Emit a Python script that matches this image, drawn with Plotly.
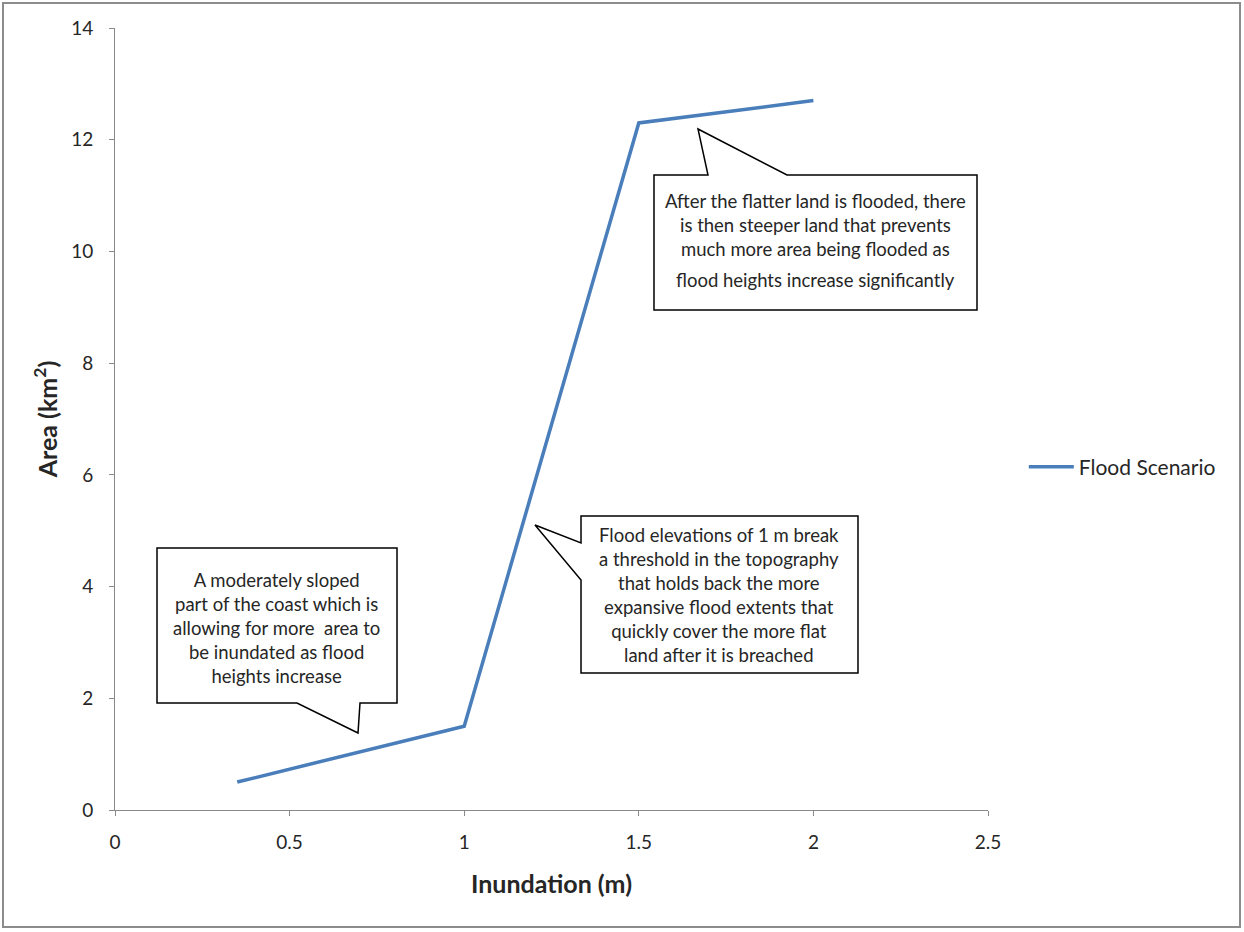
import plotly.graph_objects as go

# Data
inundation_m = [0.35, 1.0, 1.5, 2.0]
area_km2 = [0.5, 1.5, 12.3, 12.7]
series_name = "Flood Scenario"

x_ticks = [0, 0.5, 1, 1.5, 2, 2.5]
x_tick_labels = ["0", "0.5", "1", "1.5", "2", "2.5"]
y_ticks = [0, 2, 4, 6, 8, 10, 12, 14]
y_tick_labels = ["0", "2", "4", "6", "8", "10", "12", "14"]

callout_texts = [
    "A moderately sloped<br>part of the coast which is<br>allowing for more  area to<br>be inundated as flood<br>heights increase",
    "Flood elevations of 1 m break<br>a threshold in the topography<br>that holds back the more<br>expansive flood extents that<br>quickly cover the more flat<br>land after it is breached",
    "After the flatter land is flooded, there<br>is then steeper land that prevents<br>much more area being flooded as",
    "flood heights increase significantly",
]

FONT = "Lato, Open Sans, sans-serif"
AXIS_COLOR = "#898989"
TEXT_COLOR = "#262626"

W, H = 1244, 930
L, R, T, B = 115, 256, 28, 120

fig = go.Figure()
fig.add_trace(go.Scatter(
    x=inundation_m, y=area_km2, mode="lines", name=series_name,
    line=dict(color="#4a7ebb", width=3.5),
))

# Callout outlines (speech bubbles)
p1 = "M 0.1203 4.691 L 0.8076 4.691 L 0.8076 1.916 L 0.7016 1.916 L 0.6959 1.3785 L 0.5212 1.916 L 0.1203 1.916 Z"
p2 = "M 1.3345 5.2635 L 2.1277 5.2635 L 2.1277 2.4527 L 1.3345 2.4527 L 1.3345 4.1177 L 1.2027 5.1024 L 1.3345 4.780 Z"
p3 = "M 1.5435 11.368 L 1.6982 11.368 L 1.6695 12.192 L 1.9244 11.368 L 2.4685 11.368 L 2.4685 8.951 L 1.5435 8.951 Z"

for p in (p1, p2, p3):
    fig.add_shape(type="path", path=p, xref="x", yref="y",
                  line=dict(color="black", width=1.5), fillcolor="white", layer="above")

ann_font = dict(family=FONT, size=18.5, color=TEXT_COLOR)
fig.add_annotation(x=0.4625, y=3.258, xref="x", yref="y", text=callout_texts[0],
                   showarrow=False, font=ann_font, align="center")
fig.add_annotation(x=1.7297, y=3.849, xref="x", yref="y", text=callout_texts[1],
                   showarrow=False, font=ann_font, align="center")
fig.add_annotation(x=2.0046, y=10.473, xref="x", yref="y", text=callout_texts[2],
                   showarrow=False, font=ann_font, align="center")
fig.add_annotation(x=2.0046, y=9.488, xref="x", yref="y", text=callout_texts[3],
                   showarrow=False, font=ann_font, align="center")

# outer border
pw = W - L - R
ph = H - T - B
fig.add_shape(type="rect", xref="paper", yref="paper",
              x0=(3 - L) / pw, x1=(1240 - L) / pw,
              y0=(H - B - 927) / ph, y1=(H - B - 3) / ph,
              line=dict(color="#8c8c8c", width=2), layer="below")

fig.update_layout(
    width=W, height=H,
    margin=dict(l=L, r=R, t=T, b=B),
    paper_bgcolor="white", plot_bgcolor="white",
    font=dict(family=FONT, size=19, color=TEXT_COLOR),
    showlegend=True,
    legend=dict(x=1.041, y=(810 - 467) / 782, xanchor="left", yanchor="middle",
                font=dict(family=FONT, size=21, color=TEXT_COLOR),
                itemwidth=45,
                bgcolor="rgba(0,0,0,0)"),
    xaxis=dict(
        range=[0, 2.5], tickvals=x_ticks, ticktext=x_tick_labels,
        showgrid=False, zeroline=False, showline=True, linecolor=AXIS_COLOR, linewidth=1,
        ticks="outside", ticklen=5, tickcolor=AXIS_COLOR, ticklabelstandoff=10,
        tickfont=dict(family=FONT, size=19, color=TEXT_COLOR),
        title=dict(text="<b>Inundation (m)</b>", font=dict(family=FONT, size=25, color=TEXT_COLOR), standoff=23),
    ),
    yaxis=dict(
        range=[0, 14], tickvals=y_ticks, ticktext=y_tick_labels,
        showgrid=False, zeroline=False, showline=True, linecolor=AXIS_COLOR, linewidth=1,
        ticks="outside", ticklen=5, tickcolor=AXIS_COLOR, ticklabelstandoff=12,
        tickfont=dict(family=FONT, size=19, color=TEXT_COLOR),
        title=dict(text="<b>Area (km<sup>2</sup>)</b>", font=dict(family=FONT, size=25, color=TEXT_COLOR), standoff=6),
    ),
)

fig.write_html("out.html", config={"displayModeBar": False},
               post_script="document.body.style.margin='0';document.body.style.overflow='hidden';")
